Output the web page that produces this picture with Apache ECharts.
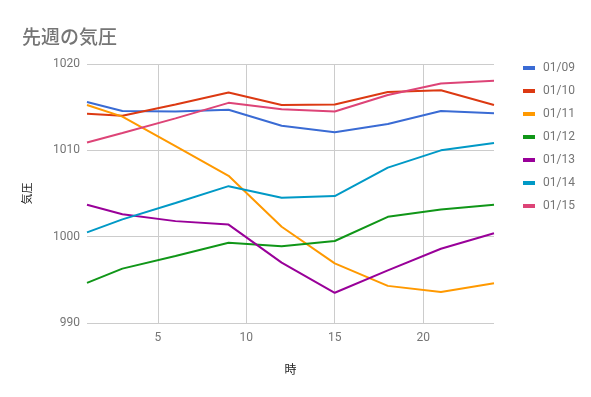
<!DOCTYPE html>
<html>
<head>
<meta charset="utf-8">
<script src="https://cdn.jsdelivr.net/npm/echarts@6/dist/echarts.min.js"></script>
<style>
  html, body { margin: 0; padding: 0; background: #fff; }
  #chart { width: 591px; height: 397px; }
</style>
</head>
<body>
<div id="chart"></div>
<script>
// 時刻
const hours = [1, 3, 6, 9, 12, 15, 18, 21, 24];
const days = ["01/09", "01/10", "01/11", "01/12", "01/13", "01/14", "01/15"];
// 各日の気圧
const p0109 = [1015.6, 1014.55, 1014.5, 1014.7, 1012.85, 1012.1, 1013.05, 1014.55, 1014.3];
const p0110 = [1014.25, 1014.0, 1015.3, 1016.7, 1015.25, 1015.3, 1016.75, 1016.95, 1015.25];
const p0111 = [1015.25, 1013.9, 1010.5, 1007.05, 1001.15, 996.9, 994.3, 993.6, 994.6];
const p0112 = [994.65, 996.3, 997.75, 999.3, 998.9, 999.5, 1002.3, 1003.15, 1003.7];
const p0113 = [1003.7, 1002.6, 1001.8, 1001.4, 997.0, 993.5, 996.1, 998.6, 1000.4];
const p0114 = [1000.5, 1002.0, 1003.9, 1005.85, 1004.5, 1004.7, 1008.0, 1010.0, 1010.85];
const p0115 = [1010.9, 1012.0, 1013.7, 1015.5, 1014.75, 1014.5, 1016.4, 1017.75, 1018.05];
const xTicks = [5, 10, 15, 20];

const values = [p0109, p0110, p0111, p0112, p0113, p0114, p0115];
const colors = ["#3a6bd4", "#dc3912", "#ff9900", "#109618", "#990099", "#0099c6", "#dd4477"];

const chart = echarts.init(document.getElementById("chart"));
const option = {
  color: colors,
  title: {
    text: "先週の気圧",
    left: 17,
    top: 22,
    textStyle: {
      fontFamily: "Noto Sans CJK JP",
      fontSize: 19,
      fontWeight: 500,
      color: "#757575",
    },
  },
  legend: {
    orient: "vertical",
    left: 518,
    top: 57,
    itemWidth: 12,
    itemHeight: 4,
    itemGap: 11,
    icon: "rect",
    data: days,
    textStyle: {
      fontFamily: "Roboto",
      fontSize: 12,
      color: "#757575",
      padding: [0, 0, 0, 3],
    },
  },
  grid: {
    left: 87,
    right: 97,
    top: 64,
    bottom: 74,
  },
  xAxis: {
    type: "value",
    min: 1,
    max: 24,
    name: "時",
    nameLocation: "middle",
    nameGap: 40,
    nameTextStyle: { fontFamily: "Noto Sans CJK JP", fontSize: 12, color: "#222" },
    axisLine: { show: false },
    axisTick: { show: false, customValues: xTicks },
    axisLabel: {
      customValues: xTicks,
      margin: 9,
      fontFamily: "Roboto",
      fontSize: 12,
      color: "#757575",
    },
    splitLine: { show: true, lineStyle: { color: "#cccccc", width: 1 } },
  },
  yAxis: {
    type: "value",
    min: 990,
    max: 1020,
    interval: 10,
    name: "気圧",
    nameLocation: "middle",
    nameGap: 55,
    nameRotate: 90,
    nameTextStyle: { fontFamily: "Noto Sans CJK JP", fontSize: 11, color: "#222" },
    axisLine: { show: false },
    axisTick: { show: false },
    axisLabel: {
      margin: 7,
      formatter: (v) => String(v),
      fontFamily: "Roboto",
      fontSize: 12,
      color: "#757575",
    },
    splitLine: { lineStyle: { color: "#cccccc", width: 1 } },
  },
  series: days.map((d, i) => ({
    name: d,
    type: "line",
    showSymbol: false,
    symbol: "none",
    lineStyle: { width: 2 },
    data: hours.map((h, j) => [h, values[i][j]]),
  })),
};
chart.setOption(option);
</script>
</body>
</html>
